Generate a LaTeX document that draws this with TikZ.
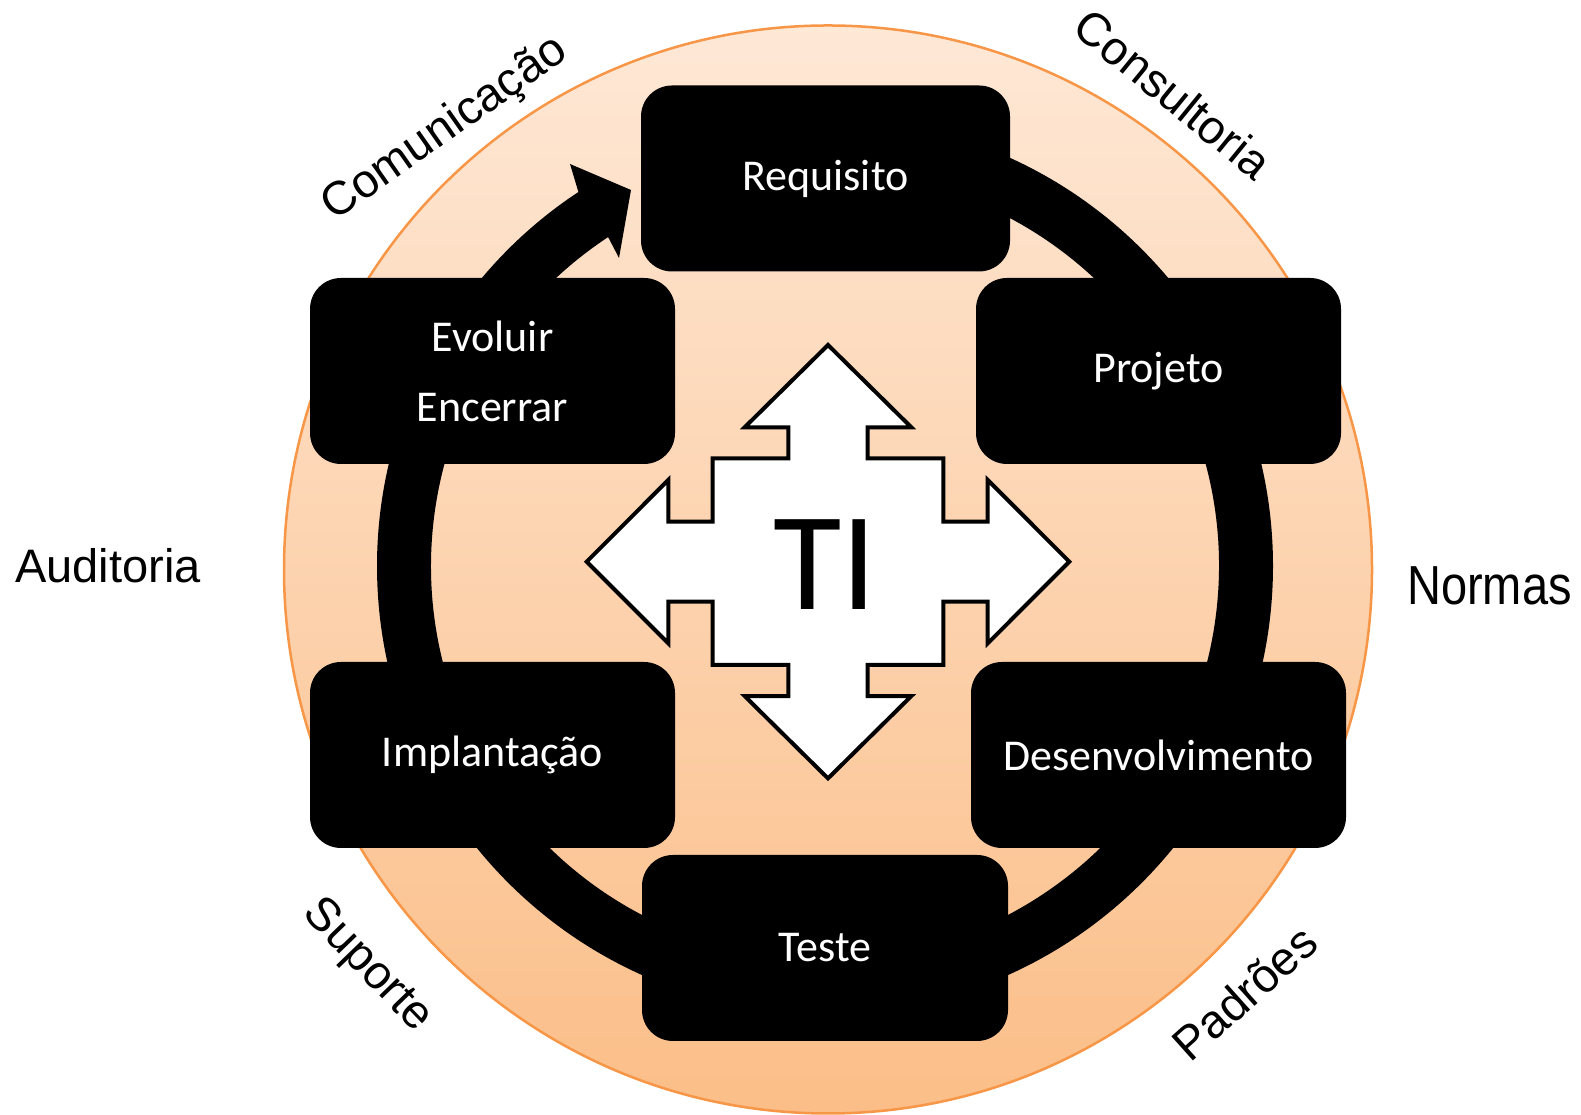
\documentclass[tikz,border=0pt]{standalone}
\usepackage{fontspec}
\newfontfamily\boxfont{Carlito}
\newfontfamily\labfont{Liberation Sans}
\definecolor{ringorange}{HTML}{F79646}
\definecolor{topfill}{HTML}{FEE8D6}
\definecolor{botfill}{HTML}{FBBE88}
\begin{document}
\begin{tikzpicture}[x=1pt,y=1pt,
  stage/.style={fill=black, rounded corners=31pt, text=white,
    font=\boxfont\fontsize{44}{70}\selectfont, align=center,
    inner sep=0pt, minimum height=186pt},
  lab/.style={font=\labfont\fontsize{47}{56}\selectfont, inner sep=0pt, anchor=base},
  cross/.style={fill=white, draw=black, line width=4pt, miter limit=10}]
\useasboundingbox (0,0) rectangle (1581,1115);
% background disc
\node[circle, minimum size=1088pt, inner sep=0pt, draw=ringorange, line width=2.5pt,
  top color=topfill, bottom color=botfill] (disc) at (828,545.5) {};
% circular arrow
\coordinate (rc) at (825,549);
\fill[black] ([shift={(90:448)}]rc) arc[start angle=90, end angle=-236.6, radius=448]
  -- (570,951) -- (631,925) -- (619,857)
  -- ([shift={(123.4:394)}]rc) arc[start angle=123.4, end angle=450, radius=394] -- cycle;
% four-way arrow
\begin{scope}[shift={(828,553.3)}]
\draw[cross] (0,216.7) -- (83.3,134.4) -- (39.7,134.4) -- (39.7,103.3) -- (115.3,103.3)
  -- (115.3,40) -- (159.7,40) -- (159.7,81.7) -- (241.3,0) -- (159.7,-81.7) -- (159.7,-40)
  -- (115.3,-40) -- (115.3,-103.3) -- (39.7,-103.3) -- (39.7,-134.4) -- (83.3,-134.4)
  -- (0,-216.7) -- (-83.3,-134.4) -- (-39.7,-134.4) -- (-39.7,-103.3) -- (-115.3,-103.3)
  -- (-115.3,-40) -- (-159.7,-40) -- (-159.7,-81.7) -- (-241.3,0) -- (-159.7,81.7)
  -- (-159.7,40) -- (-115.3,40) -- (-115.3,103.3) -- (-39.7,103.3) -- (-39.7,134.4)
  -- (-83.3,134.4) -- cycle;
\end{scope}
\node[font=\boxfont\fontsize{140}{140}\selectfont, inner sep=0pt, anchor=base] (ti) at (825,505) {TI};
% stages
\node[stage, minimum width=369pt] (req) at (825.5,936.5) {Requisito};
\node[stage, minimum width=365pt] (proj) at (1158.5,744) {Projeto};
\node[stage, minimum width=365pt] (evo) at (492.5,744) {Evoluir\\Encerrar};
\node[stage, minimum width=365pt] (impl) at (492.5,360) {Implantação};
\node[stage, minimum width=375pt] (dev) at (1158.5,360) {Desenvolvimento};
\node[stage, minimum width=366pt] (teste) at (825,167) {Teste};
% outer labels
\node[lab, anchor=base west] (aud) at (15,532.3) {Auditoria};
\node[lab, anchor=base west, yscale=1.17] (norm) at (1407,510.7) {Normas};
\node[lab, rotate=35] (com) at (452.4,975.8) {Comunicação};
\node[lab, rotate=-39.2] (cons) at (1162.6,1008.3) {Consultoria};
\node[lab, rotate=-46] (sup) at (358.7,140.8) {Suporte};
\node[lab, rotate=41.8] (pad) at (1255.7,109.6) {Padrões};
\end{tikzpicture}
\end{document}
